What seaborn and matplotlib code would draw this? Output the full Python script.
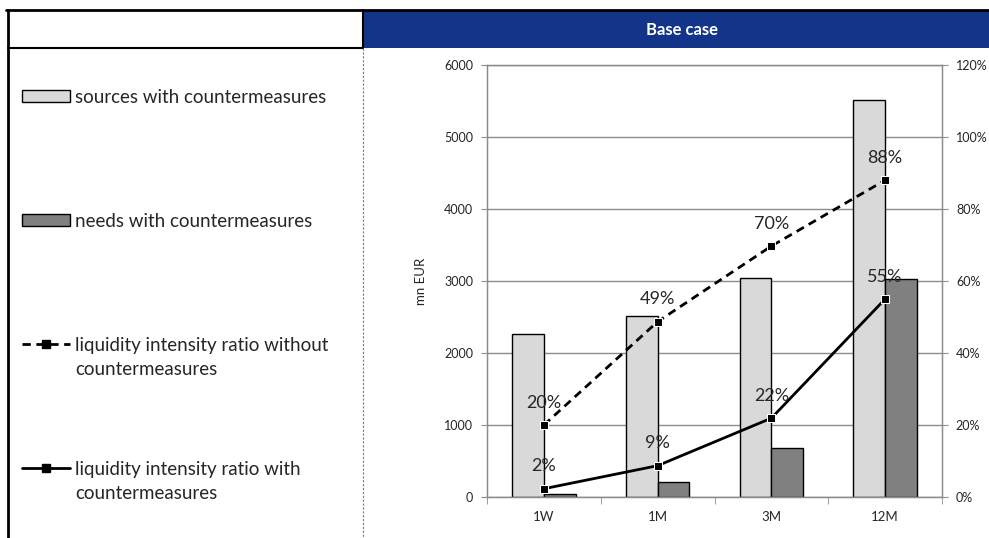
import numpy as np
import pandas as pd
import seaborn as sns
import matplotlib.pyplot as plt
from matplotlib.patches import Rectangle, Patch
from matplotlib.lines import Line2D
from matplotlib.ticker import PercentFormatter, FixedLocator

categories = ["1W", "1M", "3M", "12M"]
sources = [2260, 2510, 3040, 5510]
needs = [42, 213, 680, 3030]
ratio_without = [0.20, 0.487, 0.697, 0.88]
ratio_with = [0.023, 0.087, 0.219, 0.55]

bar_labels = ["sources with countermeasures", "needs with countermeasures"]
line_labels = ["liquidity intensity ratio without\ncountermeasures",
               "liquidity intensity ratio with\ncountermeasures"]

sns.set_style("white")
plt.rcParams["font.family"] = ["Lato", "DejaVu Sans"]

df = pd.DataFrame({
    "horizon": categories * 2,
    "value": sources + needs,
    "series": [bar_labels[0]] * 4 + [bar_labels[1]] * 4,
})

W, H = 989, 538
fig = plt.figure(figsize=(W / 100, H / 100), dpi=100)

def fx(px):
    return px / W

def fy(py):
    return 1 - py / H

ax = fig.add_axes([fx(487), fy(497), fx(942 - 487), (497 - 65) / H])
grid_c = "#8c8c8c"

sns.barplot(data=df, x="horizon", y="value", hue="series", order=categories,
            palette=["#d9d9d9", "#808080"], width=0.56, edgecolor="black",
            linewidth=1, ax=ax, legend=False, errorbar=None)
ax.set_ylim(0, 6000)
ax.set_xlim(-0.5, 3.5)
ax.set_yticks(np.arange(0, 6001, 1000))
ax.yaxis.grid(True, color=grid_c, linewidth=1)
ax.set_axisbelow(True)
ax.set_xlabel("")
ax.set_ylabel("mn EUR", fontsize=9.5, labelpad=12)
ax.tick_params(axis="y", labelsize=9, length=4, color=grid_c, left=True, pad=6)
ax.tick_params(axis="x", which="major", length=0, labelsize=9.5, pad=10)
ax.xaxis.set_minor_locator(FixedLocator(np.arange(-0.5, 4, 1.0)))
ax.tick_params(axis="x", which="minor", length=5, color=grid_c, bottom=True)
for s in ax.spines.values():
    s.set_color(grid_c)
    s.set_linewidth(1)

ax2 = ax.twinx()
xpos = np.arange(len(categories))
lines_df = pd.DataFrame({
    "x": np.concatenate([xpos, xpos]),
    "ratio": ratio_without + ratio_with,
    "kind": ["without"] * 4 + ["with"] * 4,
})
sns.lineplot(data=lines_df, x="x", y="ratio", style="kind",
             dashes={"without": (3, 2), "with": ""}, markers={"without": "s", "with": "s"},
             color="black", linewidth=2, markersize=6, ax=ax2, legend=False,
             sort=False, estimator=None)
ax2.set_ylim(0, 1.2)
ax2.set_yticks(np.arange(0, 1.21, 0.2))
ax2.yaxis.set_major_formatter(PercentFormatter(1.0, decimals=0))
ax2.tick_params(axis="y", labelsize=9, length=4, color=grid_c, right=True, pad=6)
ax2.set_ylabel("")
ax2.set_xlim(-0.5, 3.5)
for s in ax2.spines.values():
    s.set_color(grid_c)

for series in (ratio_without, ratio_with):
    for x, v in zip(xpos, series):
        ax2.annotate(f"{v:.0%}", (x, v), xytext=(0, 16), textcoords="offset points",
                     ha="center", va="center", fontsize=13)

# header band
fig.patches.append(Rectangle((fx(363), fy(48)), fx(W - 363), (48 - 10) / H,
                             transform=fig.transFigure, facecolor="#123589",
                             edgecolor="none", zorder=0))
fig.text(fx(682), fy(30), "Base case", color="white", fontsize=12,
         fontweight="bold", ha="center", va="center")
fig.add_artist(Line2D([fx(6), 1], [fy(10), fy(10)], color="black", lw=2))
fig.add_artist(Line2D([fx(8), fx(363)], [fy(48), fy(48)], color="black", lw=1.5))
fig.add_artist(Line2D([fx(8), fx(8)], [fy(10), 0], color="black", lw=2))
fig.add_artist(Line2D([fx(363), fx(363)], [fy(10), fy(48)], color="black", lw=1.5))
fig.add_artist(Line2D([fx(363), fx(363)], [fy(48), 0], color="#777777", lw=0.8,
                      linestyle=(0, (2, 1.5))))

# left legend
handles = [
    Patch(facecolor="#d9d9d9", edgecolor="black", linewidth=1),
    Patch(facecolor="#808080", edgecolor="black", linewidth=1),
    Line2D([], [], color="black", lw=2, linestyle=(0, (3, 2)), marker="s", markersize=6),
    Line2D([], [], color="black", lw=2, marker="s", markersize=6),
]
first_lines = [bar_labels[0], bar_labels[1]] + [l.split("\n")[0] for l in line_labels]
leg = fig.legend(handles, first_lines, loc="upper left",
                 bbox_to_anchor=(fx(22), fy(89)), frameon=False, fontsize=13.5,
                 handlelength=2.55, handleheight=0.6, handletextpad=0.28,
                 labelspacing=5.7, borderpad=0, borderaxespad=0)

fig.canvas.draw()
inv = fig.transFigure.inverted()
for txt, full in zip(leg.get_texts()[2:], line_labels):
    bb = txt.get_window_extent()
    x0, y0 = inv.transform((bb.x0, bb.y0))
    fig.text(x0, y0 - 7 / H, full.split("\n")[1], fontsize=13.5, ha="left", va="top")

fig.savefig("out.png", dpi=100)
